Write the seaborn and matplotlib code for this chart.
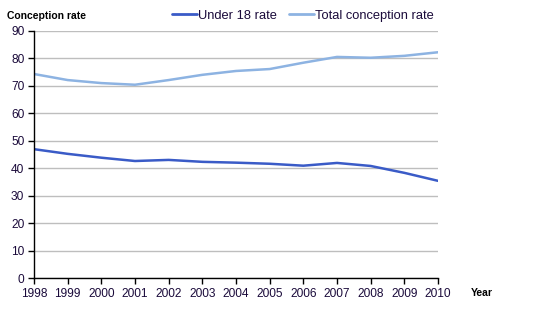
import matplotlib
matplotlib.use("Agg")
import matplotlib.pyplot as plt
import seaborn as sns
import pandas as pd

years = list(range(1998, 2011))
under18 = [46.9, 45.2, 43.8, 42.6, 43.0, 42.3, 42.0, 41.6, 40.9, 41.9, 40.8, 38.3, 35.4]
total = [74.2, 72.0, 70.9, 70.3, 72.0, 73.9, 75.3, 76.0, 78.3, 80.4, 80.1, 80.8, 82.1]
series_names = ["Under 18 rate", "Total conception rate"]
colors = ["#3A5BC7", "#8DB3E2"]

df = pd.DataFrame({"Year": years * 2,
                   "Rate": under18 + total,
                   "Series": [series_names[0]] * len(years) + [series_names[1]] * len(years)})

sns.set_theme(style="white")
plt.rcParams['font.family'] = ['Liberation Sans', 'DejaVu Sans']

fig = plt.figure(figsize=(5.46, 3.26), dpi=100)
ax = fig.add_axes([34/546, (326-278.3)/326, (438-34)/546, (278.3-30.5)/326])

sns.lineplot(data=df, x="Year", y="Rate", hue="Series", palette=colors, ax=ax, linewidth=1.8, legend=False)

ax.set_xlim(1998, 2010)
ax.set_ylim(0, 90)
ax.set_yticks(range(0, 91, 10))
ax.set_xticks(years)
ax.set_xticklabels([str(y) for y in years])
ax.yaxis.grid(True, color="#BEBEBE", linewidth=1)
ax.set_axisbelow(True)
for s in ["top", "right"]:
    ax.spines[s].set_visible(False)
for s in ["left", "bottom"]:
    ax.spines[s].set_color("black")
    ax.spines[s].set_linewidth(1)
ax.tick_params(axis="both", which="both", length=4, width=1, color="black", direction="out",
               labelsize=8.6, labelcolor="#1A0A3A", pad=3, bottom=True, left=True)
ax.set_xlabel("")
ax.set_ylabel("")

fig.text(7/546, 1 - 16/326, "Conception rate", fontsize=7.5, fontweight="bold", va="center", ha="left", color="black")
fig.text(471/546, 1 - 293/326, "Year", fontsize=7.5, fontweight="bold", va="center", ha="left", color="black")

from matplotlib.lines import Line2D
handles = [Line2D([0], [0], color=c, linewidth=2) for c in colors]
fig.legend(handles, series_names, loc="center", bbox_to_anchor=(303/546, 1 - 16/326), ncol=2,
           frameon=False, fontsize=9.3, handlelength=1.95, handletextpad=0.1, columnspacing=0.9,
           labelcolor="#1A0A3A")

fig.savefig("out.png", dpi=100)
